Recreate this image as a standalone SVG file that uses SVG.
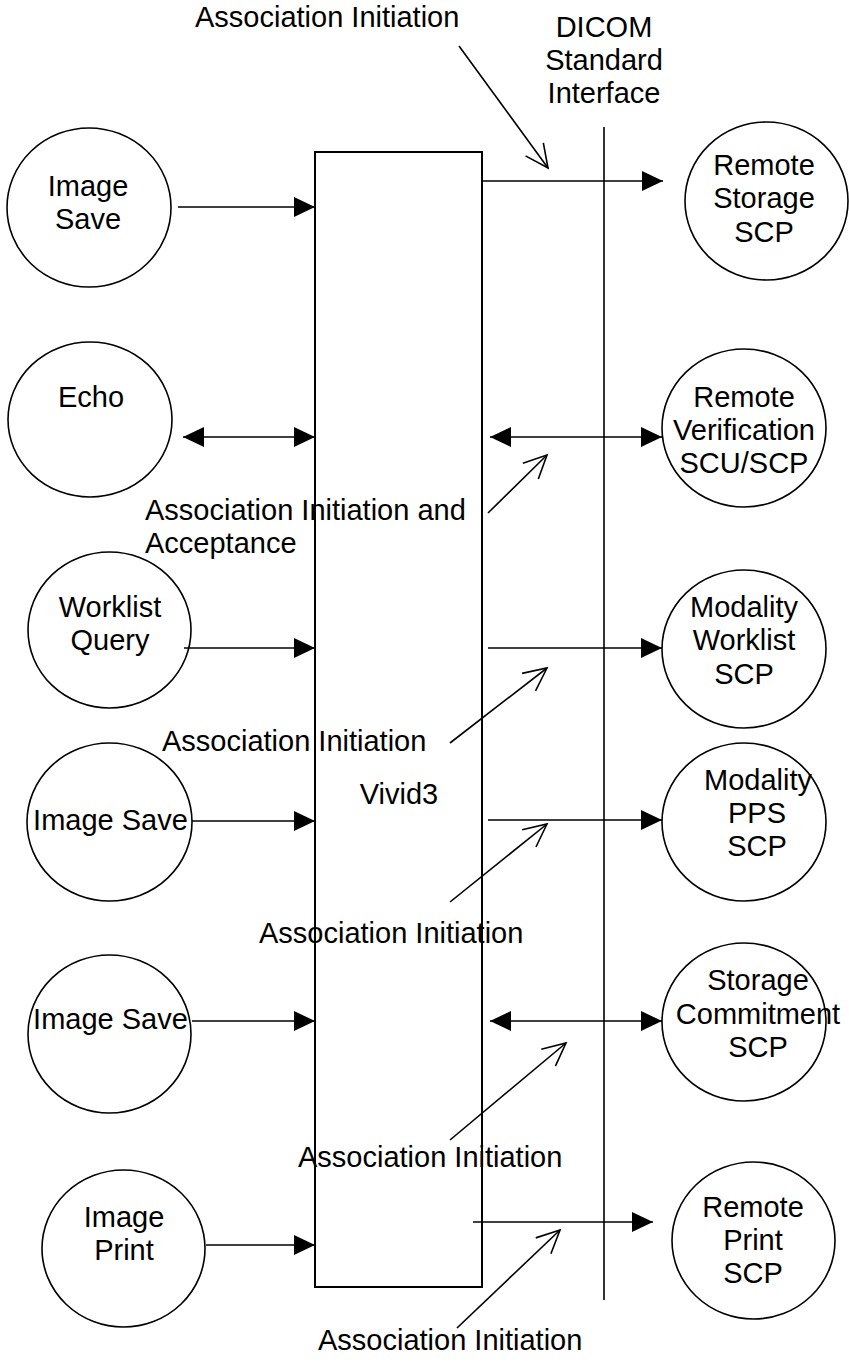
<svg xmlns="http://www.w3.org/2000/svg" width="849" height="1362" viewBox="0 0 849 1362">
<style>
text{font-family:"Liberation Sans",Arial,sans-serif;font-size:29px;fill:#000}
.c text{text-anchor:middle}
ellipse{fill:#fff;stroke:#000;stroke-width:1.6}
.ln{stroke:#000;stroke-width:1.6;fill:none}
.f{marker-end:url(#fa)}
.d{marker-end:url(#fa);marker-start:url(#fa)}
.o{marker-end:url(#oa)}
</style>
<defs>
<marker id="fa" markerUnits="userSpaceOnUse" markerWidth="22" markerHeight="22" refX="21" refY="10" orient="auto-start-reverse" overflow="visible"><path d="M0,0 L21,10 L0,20 Z" fill="#000"/></marker>
<marker id="oa" markerUnits="userSpaceOnUse" markerWidth="25" markerHeight="25" refX="23" refY="11" orient="auto" overflow="visible"><path d="M0,0 L23,11 L0,22" fill="none" stroke="#000" stroke-width="1.6"/></marker>
</defs>
<rect width="849" height="1362" fill="#fff"/>

<g id="vivid3">
<rect x="315" y="152" width="167" height="1135" fill="#fff" stroke="#000" stroke-width="2"/>
<text x="399" y="804" text-anchor="middle">Vivid3</text>
</g>

<g id="dicom-interface">
<line x1="604" y1="127" x2="604" y2="1300" class="ln"/>
<text x="604" y="37" text-anchor="middle">DICOM</text>
<text x="604" y="70" text-anchor="middle">Standard</text>
<text x="604" y="103" text-anchor="middle">Interface</text>
</g>

<g id="image-save-1" class="c"><ellipse cx="89" cy="207.5" rx="82" ry="79.5"/><text x="88" y="196">Image</text><text x="88" y="229">Save</text></g>
<g id="echo" class="c"><ellipse cx="90" cy="419.5" rx="82" ry="77.5"/><text x="91" y="407">Echo</text></g>
<g id="worklist-query" class="c"><ellipse cx="109.5" cy="630" rx="81.5" ry="78"/><text x="110" y="617">Worklist</text><text x="110" y="650">Query</text></g>
<g id="image-save-2" class="c"><ellipse cx="109.5" cy="822" rx="82.5" ry="79"/><text x="110.5" y="830">Image Save</text></g>
<g id="image-save-3" class="c"><ellipse cx="109.5" cy="1034" rx="81.5" ry="79"/><text x="110.5" y="1029">Image Save</text></g>
<g id="image-print" class="c"><ellipse cx="123.5" cy="1248.5" rx="81.5" ry="78.5"/><text x="124" y="1227">Image</text><text x="124" y="1260">Print</text></g>

<g id="remote-storage-scp" class="c"><ellipse cx="766.5" cy="201" rx="81.5" ry="79"/><text x="764" y="175">Remote</text><text x="764" y="208">Storage</text><text x="764" y="242">SCP</text></g>
<g id="remote-verification" class="c"><ellipse cx="744" cy="428" rx="82" ry="79"/><text x="744" y="407">Remote</text><text x="744" y="440">Verification</text><text x="744" y="473">SCU/SCP</text></g>
<g id="modality-worklist-scp" class="c"><ellipse cx="744" cy="649" rx="82" ry="79"/><text x="744" y="617">Modality</text><text x="744" y="650">Worklist</text><text x="744" y="684">SCP</text></g>
<g id="modality-pps-scp" class="c"><ellipse cx="744" cy="822" rx="82" ry="79"/><text x="758" y="790">Modality</text><text x="757" y="823">PPS</text><text x="757" y="856">SCP</text></g>
<g id="storage-commitment-scp" class="c"><ellipse cx="744" cy="1022" rx="82" ry="79"/><text x="758" y="990">Storage</text><text x="758" y="1024">Commitment</text><text x="758" y="1057">SCP</text></g>
<g id="remote-print-scp" class="c"><ellipse cx="753.5" cy="1240.5" rx="81.5" ry="78.5"/><text x="753" y="1217">Remote</text><text x="753" y="1250">Print</text><text x="753" y="1283">SCP</text></g>

<g id="connectors">
<line x1="178" y1="207" x2="315" y2="207" class="ln f"/>
<line x1="482" y1="181" x2="663" y2="181" class="ln f"/>
<line x1="183" y1="437" x2="315" y2="437" class="ln d"/>
<line x1="490" y1="437" x2="662" y2="437" class="ln d"/>
<line x1="184" y1="648" x2="315" y2="648" class="ln f"/>
<line x1="488" y1="648" x2="662" y2="648" class="ln f"/>
<line x1="192" y1="821" x2="315" y2="821" class="ln f"/>
<line x1="488" y1="820" x2="662" y2="820" class="ln f"/>
<line x1="192" y1="1021" x2="315" y2="1021" class="ln f"/>
<line x1="490" y1="1021" x2="662" y2="1021" class="ln d"/>
<line x1="206" y1="1245" x2="315" y2="1245" class="ln f"/>
<line x1="473" y1="1222" x2="653" y2="1222" class="ln f"/>

<line x1="459" y1="46" x2="548" y2="168" class="ln o"/>
<line x1="488" y1="513" x2="547" y2="455" class="ln o"/>
<line x1="450" y1="743" x2="547" y2="668" class="ln o"/>
<line x1="450" y1="902" x2="547" y2="824" class="ln o"/>
<line x1="450" y1="1140" x2="566" y2="1043" class="ln o"/>
<line x1="457" y1="1328" x2="560" y2="1230" class="ln o"/>
</g>

<g id="labels">
<text x="195" y="27">Association Initiation</text>
<text x="145" y="520">Association Initiation and</text>
<text x="145" y="553">Acceptance</text>
<text x="162" y="751">Association Initiation</text>
<text x="259" y="943">Association Initiation</text>
<text x="298" y="1167">Association Initiation</text>
<text x="318" y="1350">Association Initiation</text>
</g>
</svg>
